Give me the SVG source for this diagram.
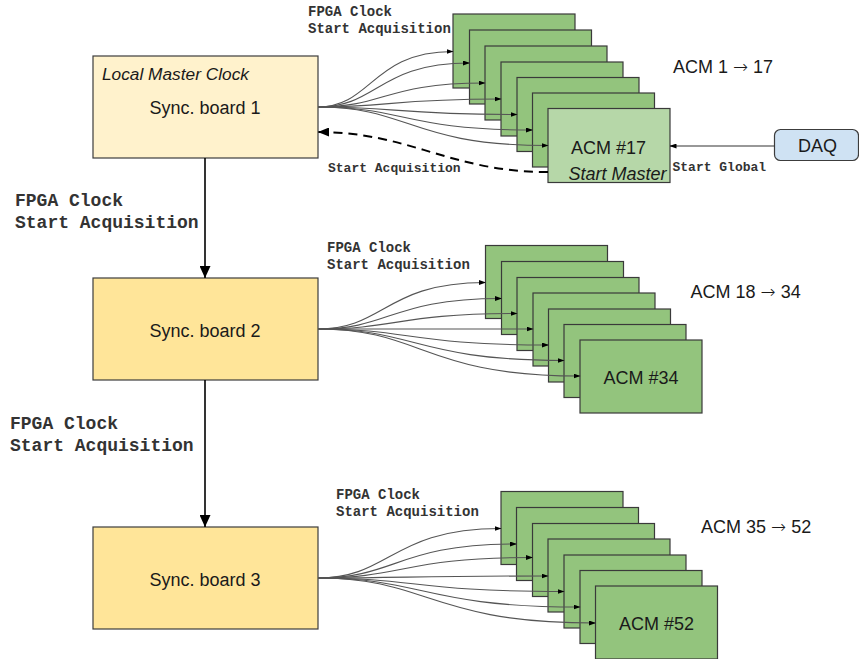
<svg xmlns="http://www.w3.org/2000/svg" width="859" height="659" viewBox="0 0 859 659">
  <style>
    .sans { font-family: "Liberation Sans", Arial, sans-serif; fill: #1a1a1a; }
    .arrow-glyph { font-family: "DejaVu Sans", sans-serif; font-weight: 300; }
    .mono { font-family: "Liberation Mono", "Courier New", monospace; font-weight: bold; fill: #333; }
    .sync { stroke: #3c3c3c; stroke-width: 1.2; }
    .sync1 { fill: #fff2cc; }
    .sync2 { fill: #ffe599; }
    .acm { fill: #93c47d; stroke: #3a3a3a; stroke-width: 1.2; }
    .acm-master { fill: #b6d7a8; stroke: #3a3a3a; stroke-width: 1.2; }
    .daq { fill: #cfe2f3; stroke: #3c3c3c; stroke-width: 1.2; }
    .fan { fill: none; stroke: #555; stroke-width: 1.1; marker-end: url(#tip-small); }
    .down { fill: none; stroke: #000; stroke-width: 1.6; marker-end: url(#tip-big); }
    .dashed { fill: none; stroke: #000; stroke-width: 2; stroke-dasharray: 9 6; marker-end: url(#tip-mid); }
    .thin { fill: none; stroke: #333; stroke-width: 1.1; marker-end: url(#tip-small); }
  </style>
  <defs>
    <marker id="tip-small" markerUnits="userSpaceOnUse" markerWidth="7" markerHeight="5" refX="6.5" refY="2.5" orient="auto">
      <path d="M0,0 L7,2.5 L0,5 z" fill="#000"/>
    </marker>
    <marker id="tip-big" markerUnits="userSpaceOnUse" markerWidth="12" markerHeight="11" refX="12" refY="5.5" orient="auto">
      <path d="M0,0 L12,5.5 L0,11 z" fill="#000"/>
    </marker>
    <marker id="tip-mid" markerUnits="userSpaceOnUse" markerWidth="11" markerHeight="9" refX="11" refY="4.5" orient="auto">
      <path d="M0,0 L11,4.5 L0,9 z" fill="#000"/>
    </marker>
  </defs>

  <rect width="859" height="659" fill="#ffffff"/>

  <!-- Sync boards -->
  <g id="sync-board-1">
    <rect class="sync sync1" x="93" y="56" width="225" height="102"/>
    <text class="sans" x="102" y="79.5" font-size="17.3" font-style="italic">Local Master Clock</text>
    <text class="sans" x="205" y="114" font-size="18" text-anchor="middle">Sync. board 1</text>
  </g>
  <g id="sync-board-2">
    <rect class="sync sync2" x="93" y="278" width="225" height="102"/>
    <text class="sans" x="205" y="337" font-size="18" text-anchor="middle">Sync. board 2</text>
  </g>
  <g id="sync-board-3">
    <rect class="sync sync2" x="93" y="527" width="225" height="102"/>
    <text class="sans" x="205" y="586" font-size="18" text-anchor="middle">Sync. board 3</text>
  </g>

  <!-- ACM stack 1 -> 17 -->
  <g id="acm-1"><rect class="acm" x="453" y="14" width="122" height="74"/></g>
  <g id="acm-2"><rect class="acm" x="469.5" y="30" width="122" height="74"/></g>
  <g id="acm-3"><rect class="acm" x="485" y="46" width="122" height="74"/></g>
  <g id="acm-4"><rect class="acm" x="501" y="62" width="122" height="74"/></g>
  <g id="acm-5"><rect class="acm" x="517" y="77.5" width="122" height="74"/></g>
  <g id="acm-6"><rect class="acm" x="532.5" y="93" width="122" height="74"/></g>
  <g id="acm-17">
    <rect class="acm-master" x="548" y="108.5" width="122" height="74"/>
    <text class="sans" x="608.5" y="153.5" font-size="18" text-anchor="middle">ACM #17</text>
    <text class="sans" x="617.5" y="180" font-size="18" font-style="italic" text-anchor="middle">Start Master</text>
  </g>

  <!-- ACM stack 18 -> 34 -->
  <g id="acm-18"><rect class="acm" x="485.5" y="245.5" width="122" height="73"/></g>
  <g id="acm-19"><rect class="acm" x="501.5" y="261.5" width="122" height="73"/></g>
  <g id="acm-20"><rect class="acm" x="517" y="277.5" width="122" height="73"/></g>
  <g id="acm-21"><rect class="acm" x="533" y="293" width="122" height="73"/></g>
  <g id="acm-22"><rect class="acm" x="548.5" y="309" width="122" height="73"/></g>
  <g id="acm-23"><rect class="acm" x="564" y="324.5" width="122" height="73"/></g>
  <g id="acm-34">
    <rect class="acm" x="580" y="340" width="122" height="73"/>
    <text class="sans" x="641" y="383.5" font-size="18" text-anchor="middle">ACM #34</text>
  </g>

  <!-- ACM stack 35 -> 52 -->
  <g id="acm-35"><rect class="acm" x="501" y="491.5" width="122" height="73"/></g>
  <g id="acm-36"><rect class="acm" x="516.5" y="507.5" width="122" height="73"/></g>
  <g id="acm-37"><rect class="acm" x="532.5" y="523.5" width="122" height="73"/></g>
  <g id="acm-38"><rect class="acm" x="548" y="539" width="122" height="73"/></g>
  <g id="acm-39"><rect class="acm" x="564" y="555" width="122" height="73"/></g>
  <g id="acm-40"><rect class="acm" x="580" y="570.5" width="122" height="73"/></g>
  <g id="acm-52">
    <rect class="acm" x="595.5" y="586" width="122" height="73"/>
    <text class="sans" x="656.5" y="630" font-size="18" text-anchor="middle">ACM #52</text>
  </g>

  <!-- DAQ -->
  <g id="daq">
    <rect class="daq" x="774.5" y="129.5" width="84" height="31" rx="6"/>
    <text class="sans" x="817.5" y="152" font-size="18" text-anchor="middle">DAQ</text>
  </g>

  <!-- Range captions -->
  <g id="captions">
    <text class="sans" x="673" y="72.5" font-size="18">ACM 1 <tspan class="arrow-glyph">→</tspan> 17</text>
    <text class="sans" x="690.5" y="297.5" font-size="18">ACM 18 <tspan class="arrow-glyph">→</tspan> 34</text>
    <text class="sans" x="701" y="533" font-size="18">ACM 35 <tspan class="arrow-glyph">→</tspan> 52</text>
  </g>

  <!-- Connectors -->
  <g id="connectors">
    <!-- fan-out from sync board 1 -->
    <path class="fan" d="M318,107 C372,107 372,51.5 453,51.5"/>
    <path class="fan" d="M318,107 C378,107 378,63 469.5,63"/>
    <path class="fan" d="M318,107 C385,107 385,83 485,83"/>
    <path class="fan" d="M318,107 C391,107 391,99 501,99"/>
    <path class="fan" d="M318,107 C397,107 397,114.5 517,114.5"/>
    <path class="fan" d="M318,107 C404,107 404,130 532.5,130"/>
    <path class="fan" d="M318,107 C410,107 410,145.5 548,145.5"/>

    <!-- fan-out from sync board 2 -->
    <path class="fan" d="M318,329 C385,329 385,282.5 485.5,282.5"/>
    <path class="fan" d="M318,329 C391,329 391,298.5 501.5,298.5"/>
    <path class="fan" d="M318,329 C398,329 398,313.5 517,313.5"/>
    <path class="fan" d="M318,329 C404,329 404,329 533,329"/>
    <path class="fan" d="M318,329 C410,329 410,345 548.5,345"/>
    <path class="fan" d="M318,329 C416,329 416,360.5 564,360.5"/>
    <path class="fan" d="M318,329 C423,329 423,376 580,376"/>

    <!-- fan-out from sync board 3 -->
    <path class="fan" d="M318,578 C391,578 391,528.5 501,528.5"/>
    <path class="fan" d="M318,578 C397,578 397,544 516.5,544"/>
    <path class="fan" d="M318,578 C404,578 404,557.5 532.5,557.5"/>
    <path class="fan" d="M318,578 C410,578 410,576 548,576"/>
    <path class="fan" d="M318,578 C416,578 416,591.5 564,591.5"/>
    <path class="fan" d="M318,578 C423,578 423,607 580,607"/>
    <path class="fan" d="M318,578 C429,578 429,623 595.5,623"/>

    <!-- clock / start chain between sync boards -->
    <path class="down" d="M205,158 L205,278"/>
    <path class="down" d="M205,380 L205,527"/>

    <!-- start acquisition return from the master ACM -->
    <path class="dashed" d="M548,172 C450,172 410,132 318,132"/>

    <!-- global start from DAQ -->
    <path class="thin" d="M774.5,146 L670,146"/>
  </g>

  <!-- Connector labels -->
  <g id="connector-labels">
    <text class="mono" x="308" y="15.5" font-size="14">FPGA Clock</text>
    <text class="mono" x="308" y="32.5" font-size="14">Start Acquisition</text>
    <text class="mono" x="327" y="251.5" font-size="14">FPGA Clock</text>
    <text class="mono" x="327" y="268.5" font-size="14">Start Acquisition</text>
    <text class="mono" x="336" y="499" font-size="14">FPGA Clock</text>
    <text class="mono" x="336" y="516" font-size="14">Start Acquisition</text>
    <text class="mono" x="15" y="206" font-size="18">FPGA Clock</text>
    <text class="mono" x="15" y="227.5" font-size="18">Start Acquisition</text>
    <text class="mono" x="10" y="428.5" font-size="18">FPGA Clock</text>
    <text class="mono" x="10" y="450.5" font-size="18">Start Acquisition</text>
    <text class="mono" x="328" y="171.5" font-size="13">Start Acquisition</text>
    <text class="mono" x="672.5" y="171" font-size="13">Start Global</text>
  </g>
</svg>
